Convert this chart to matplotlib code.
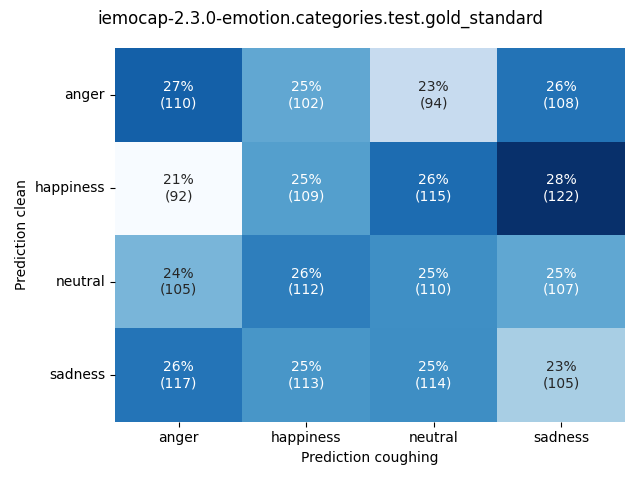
import numpy as np
import matplotlib
matplotlib.use("Agg")
import matplotlib.pyplot as plt
import seaborn as sns

labels = ["anger", "happiness", "neutral", "sadness"]
counts = np.array([
    [110, 102, 94, 108],
    [92, 109, 115, 122],
    [105, 112, 110, 107],
    [117, 113, 114, 105],
])

# row normalised percentages
perc = counts / counts.sum(axis=1, keepdims=True) * 100
annot = [[f"{perc[i, j]:.0f}%\n({counts[i, j]})" for j in range(4)] for i in range(4)]

fig, ax = plt.subplots(figsize=(6.4, 4.8), dpi=100)
sns.heatmap(perc, annot=annot, fmt="", cmap="Blues", cbar=False,
            xticklabels=labels, yticklabels=labels, ax=ax)
ax.set_xlabel("Prediction coughing")
ax.set_ylabel("Prediction clean")
plt.yticks(rotation=0)
fig.suptitle("iemocap-2.3.0-emotion.categories.test.gold_standard")
plt.tight_layout()
plt.savefig("out.png")
